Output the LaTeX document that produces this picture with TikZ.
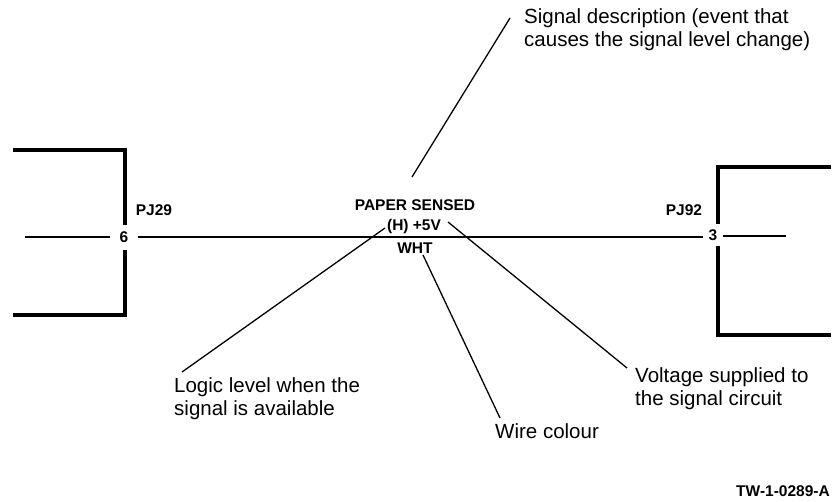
\documentclass[tikz,border=0pt]{standalone}
\usepackage{fontspec}
\setmainfont{Liberation Sans}
\begin{document}
\begin{tikzpicture}[x=1pt,y=-1pt,
  conn/.style={line width=4pt,line cap=butt,line join=miter},
  wire/.style={line width=2pt},
  leader/.style={line width=1.3pt},
  blab/.style={font=\fontsize{15.5}{18}\selectfont\bfseries,inner sep=0pt},
  note/.style={font=\fontsize{20.5}{23}\selectfont,inner sep=0pt,align=left,anchor=base west},
  pin/.style={font=\fontsize{15.5}{18}\selectfont\bfseries,inner sep=0pt,minimum height=25pt}]
\useasboundingbox (0,0) rectangle (832,502);
% pins
\node[pin,minimum width=27pt] (p6) at (124,237.5) {6};
\node[pin,minimum width=20pt,minimum height=22pt] (p3) at (713,235) {3};
% wire ends
\coordinate (wl) at (25,237);
\coordinate (wr) at (786,236);
\draw[wire] (wl) -- (p6.west |- wl);
\draw[wire] (p6.east |- wl) -- (p3.west |- wl);
\draw[wire] (p3.east |- wr) -- (wr);
% left connector
\coordinate (lt) at (13,150);
\coordinate (lb) at (13,315);
\draw[conn] (lt) -- (125,150) -- (125,225);
\draw[conn] (125,250) -- (125,315) -- (lb);
% right connector
\coordinate (rt) at (831,167);
\coordinate (rb) at (831,335);
\draw[conn] (rt) -- (718,167) -- (718,224);
\draw[conn] (718,246) -- (718,335) -- (rb);
% bold labels
\node[blab,anchor=base] (pj29) at (154,216) {PJ29};
\node[blab,anchor=base] (pj92) at (684,216) {PJ92};
\node[blab,anchor=base] (sig) at (415,210.5) {PAPER SENSED};
\node[blab,anchor=base] (lvl) at (414,230.5) {(H) +5V};
\node[blab,anchor=base] (col) at (415,254) {WHT};
\node[blab,anchor=base east] (tw) at (830,496.5) {TW-1-0289-A};
% notes (base = last line)
\node[note] (nsig) at (524,46.5) {Signal description (event that\\causes the signal level change)};
\node[note] (nlog) at (174,415) {Logic level when the\\signal is available};
\node[note] (nvol) at (635,405.5) {Voltage supplied to\\the signal circuit};
\node[note] (ncol) at (495,438.5) {Wire colour};
% leader ends
\coordinate (a1) at (412,177);
\coordinate (b1) at (510,18);
\coordinate (a2) at (385,228);
\coordinate (b2) at (182,372);
\coordinate (a3) at (423,255);
\coordinate (b3) at (500,418);
\coordinate (a4) at (448,222);
\coordinate (b4) at (627,368);
\draw[leader] (a1) -- (b1);
\draw[leader] (a2) -- (b2);
\draw[leader] (a3) -- (b3);
\draw[leader] (a4) -- (b4);
\end{tikzpicture}
\end{document}
